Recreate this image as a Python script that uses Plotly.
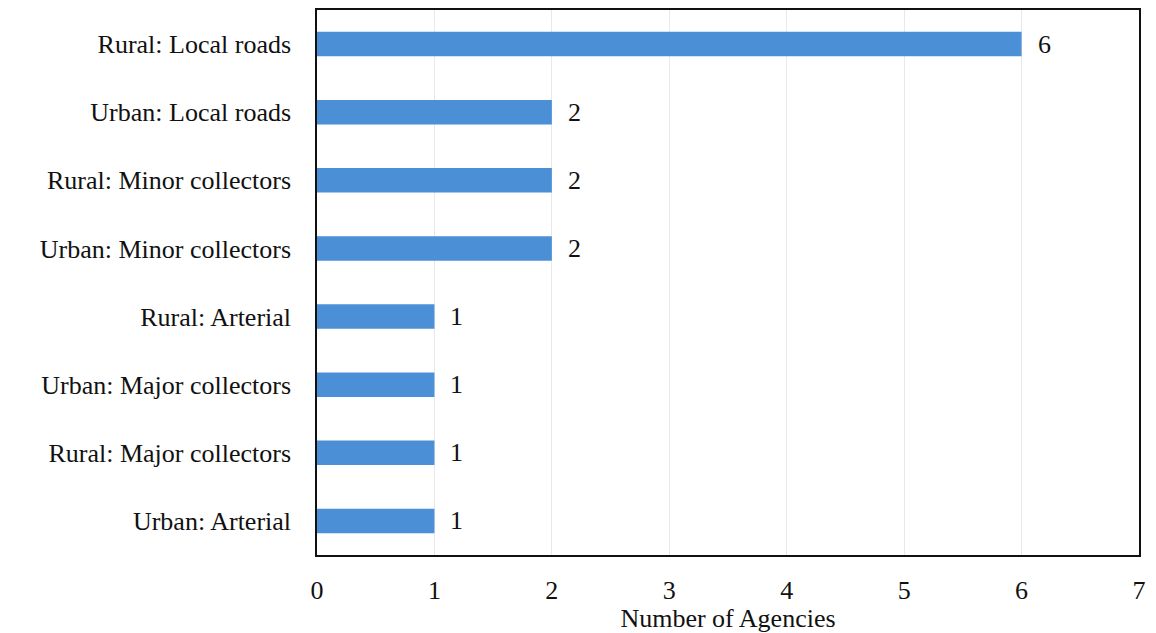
import plotly.graph_objects as go

# Road categories (top to bottom) and the number of agencies for each
categories = [
    "Rural: Local roads",
    "Urban: Local roads",
    "Rural: Minor collectors",
    "Urban: Minor collectors",
    "Rural: Arterial",
    "Urban: Major collectors",
    "Rural: Major collectors",
    "Urban: Arterial",
]
agencies = [6, 2, 2, 2, 1, 1, 1, 1]
x_ticks = [0, 1, 2, 3, 4, 5, 6, 7]

FONT = "Liberation Serif, DejaVu Serif, serif"
SIZE = 26

fig = go.Figure(
    go.Bar(
        y=categories,
        x=agencies,
        orientation="h",
        marker=dict(color="#4b8fd7", line=dict(width=0)),
        cliponaxis=False,
    )
)

# value labels just to the right of each bar end
for cat, val in zip(categories, agencies):
    fig.add_annotation(
        x=val, y=cat, text=str(val), showarrow=False,
        xanchor="left", yanchor="middle", xshift=14,
        font=dict(family=FONT, size=SIZE, color="#111111"),
    )

fig.update_layout(
    width=1156,
    height=633,
    margin=dict(l=317, r=17, t=10, b=78),
    paper_bgcolor="white",
    plot_bgcolor="white",
    bargap=0.64,
    showlegend=False,
    font=dict(family=FONT, size=SIZE, color="#111111"),
    xaxis=dict(
        range=[0, 7],
        tickvals=x_ticks,
        ticktext=[str(t) for t in x_ticks],
        automargin=False,
        showgrid=True,
        gridcolor="#e8e8e8",
        gridwidth=1,
        zeroline=False,
        showline=True,
        linecolor="#111111",
        linewidth=1.5,
        mirror=True,
        ticks="outside",
        ticklen=11,
        tickcolor="rgba(0,0,0,0)",
        tickfont=dict(family=FONT, size=SIZE),
        title=dict(text="Number of Agencies", standoff=0,
                   font=dict(family=FONT, size=SIZE)),
    ),
    yaxis=dict(
        autorange="reversed",
        categoryorder="array",
        categoryarray=categories,
        automargin=False,
        showgrid=False,
        zeroline=False,
        showline=True,
        linecolor="#111111",
        linewidth=1.5,
        mirror=True,
        ticks="outside",
        ticklen=19,
        tickcolor="rgba(0,0,0,0)",
        tickfont=dict(family=FONT, size=SIZE),
    ),
)

fig.write_html("out.html")
